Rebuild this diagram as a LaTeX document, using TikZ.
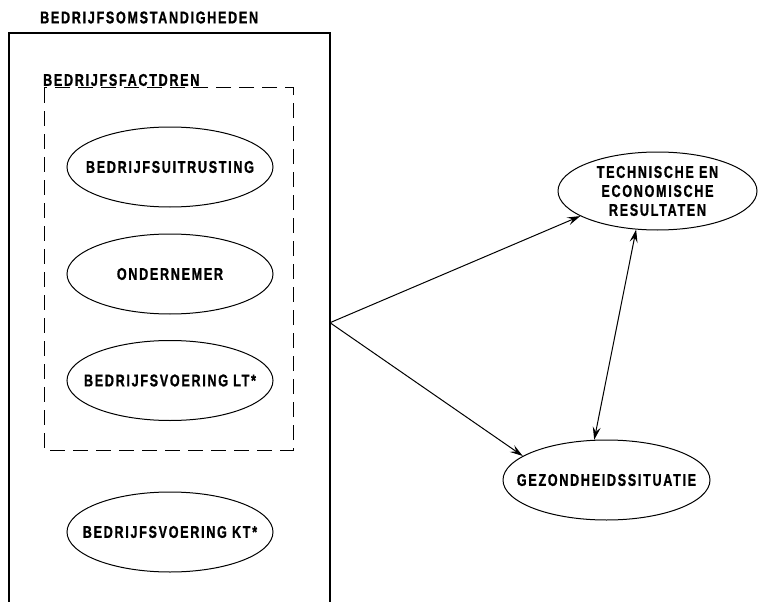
\documentclass[tikz,border=0pt]{standalone}
\usepackage{fontspec}
\setmainfont{Liberation Sans}[FakeStretch=0.74,LetterSpace=10,BoldFeatures={FakeBold=1}]
\usepackage{tikz}
\usetikzlibrary{shapes.geometric,arrows.meta}

\begin{document}
\begin{tikzpicture}[x=1pt,y=-1pt,
        lbl/.style={anchor=west, inner sep=0pt, font=\fontsize{17}{19}\selectfont\bfseries},
        factor/.style={ellipse, draw, line width=1pt, inner sep=0pt,
            minimum width=206pt, minimum height=80pt,
            label={[font=\fontsize{17}{19}\selectfont\bfseries, align=center]center:#1}},
        link/.style={line width=1pt, -{Stealth[length=13pt,width=8pt,inset=5pt]}},
        both/.style={line width=1pt, {Stealth[length=13pt,width=8pt,inset=5pt]}-{Stealth[length=13pt,width=8pt,inset=5pt]}}]
        \useasboundingbox (0,0) rectangle (758,602);

        % Outer frame
        \node[lbl] (omst) at (40,17.5) {BEDRIJFSOMSTANDIGHEDEN};
        \draw[line width=1.1pt] (9,602) -- (9,33) -- (330,33) -- (330,602);
        \coordinate (out) at (330,322.7);

        % Dashed group
        \node[lbl] (fact) at (43,80) {BEDRIJFSFACTDREN};
        \draw[line width=1pt, dash pattern=on 15pt off 8pt] (44,88) rectangle (293,450);

        % Factors
        \node[factor={BEDRIJFSUITRUSTING}] (uitr) at (170,167) {};
        \node[factor={ONDERNEMER}] (onder) at (170,274) {};
        \node[factor={BEDRIJFSVOERING LT*}] (vlt) at (170,380.5) {};
        \node[factor={BEDRIJFSVOERING KT*}] (vkt) at (170,532) {};

        % Outcomes
        \node[factor={TECHNISCHE EN\\ECONOMISCHE\\RESULTATEN}, minimum width=199pt, minimum height=78pt] (tech) at (657.5,191) {};
        \node[factor={GEZONDHEIDSSITUATIE}, minimum width=207pt] (gez) at (606.5,480) {};

        % Connections
        \draw[link] (out) -- (tech.198.6);
        \draw[link] (out) -- (gez.164);
        \draw[both] (tech.241) -- (gez.107);
    \end{tikzpicture}
\end{document}
